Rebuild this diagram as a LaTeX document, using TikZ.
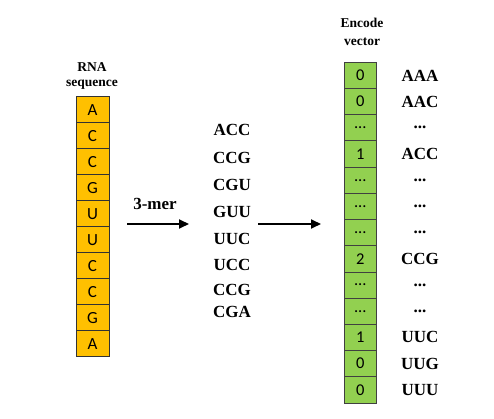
\documentclass[tikz,border=0pt]{standalone}
\usepackage{fontspec}
\setmainfont{Liberation Serif}
\newfontfamily\cellfont{Carlito}
\usetikzlibrary{arrows.meta}
\definecolor{rnaorange}{HTML}{FFC000}
\definecolor{vecgreen}{HTML}{92D050}
\newcommand\mydots{...}
\tikzset{
  rnacell/.style={draw=black!80, line width=0.6pt, fill=rnaorange, minimum width=33pt, minimum height=26pt, inner sep=0pt, outer sep=0pt, font=\cellfont\fontsize{17}{18}\selectfont},
  veccell/.style={draw=black!75, line width=0.8pt, fill=vecgreen, minimum width=32.7pt, minimum height=26.2pt, inner sep=0pt, outer sep=0pt, font=\cellfont\fontsize{16.5}{17}\selectfont},
  lbl/.style={font=\bfseries\fontsize{17}{18}\selectfont, inner sep=0pt},
  head/.style={font=\bfseries\fontsize{13.5}{14}\selectfont, inner sep=0pt, align=center},
  arr/.style={-{Triangle[length=10pt,width=9pt]}, line width=1.8pt}
}
\begin{document}
\begin{tikzpicture}[x=1pt,y=-1pt]
\useasboundingbox (0,0) rectangle (494,419);
% RNA header
\node[head] (rnah1) at (92,67) {RNA};
\node[head] (rnah2) at (92,85) {sequence};
% RNA cells
\foreach \l [count=\i from 0] in {A,C,C,G,U,U,C,C,G,A} {
  \node[rnacell] (r\i) at (92.5,{109.7+26*\i}) {\l};
}
% first arrow
\coordinate (a1s) at (127,224);
\coordinate (a1e) at (189,224);
\draw[arr] (a1s) -- (a1e);
\node[lbl] (mer) at (155,204) {3-mer};
% k-mers
\foreach \t/\y [count=\i] in {ACC/130,CCG/158,CGU/185,GUU/212,UUC/239,UCC/265,CCG/290,CGA/312} {
  \node[lbl] (k\i) at (232,\y) {\t};
}
% second arrow
\coordinate (a2s) at (258,224);
\coordinate (a2e) at (321,224);
\draw[arr] (a2s) -- (a2e);
% Encode header
\node[head] (eh1) at (362,23) {Encode};
\node[head] (eh2) at (362,42) {vector};
% vector cells
\foreach \v/\t [count=\i from 0] in {0/AAA,0/AAC,\mydots/\mydots,1/ACC,\mydots/\mydots,\mydots/\mydots,\mydots/\mydots,2/CCG,\mydots/\mydots,\mydots/\mydots,1/UUC,0/UUG,0/UUU} {
  \node[veccell] (v\i) at (360.3,{75.4+26.2*\i}) {\v};
  \node[lbl] (t\i) at (420,{75.4+26.2*\i}) {\t};
}
\end{tikzpicture}
\end{document}
